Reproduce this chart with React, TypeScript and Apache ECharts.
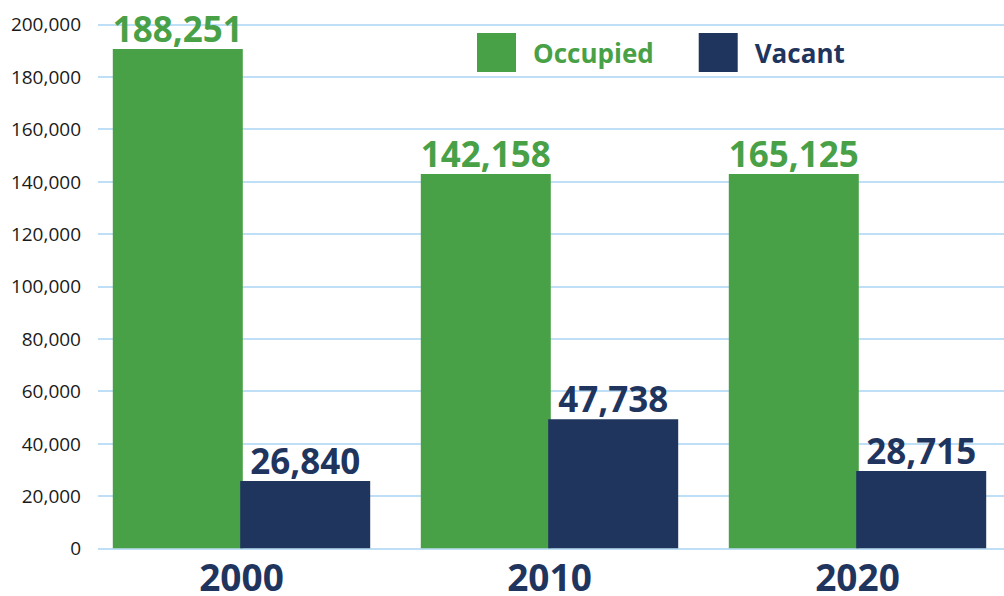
import React, { useEffect, useRef } from "react";
import * as echarts from "echarts";

const categories = ["2000", "2010", "2020"];
const occupiedBars = [190600, 142900, 142900];
const vacantBars = [25700, 49300, 29500];
const occupiedLabels = ["188,251", "142,158", "165,125"];
const vacantLabels = ["26,840", "47,738", "28,715"];
const yMin = 0;
const yMax = 200000;
const yStep = 20000;

const GREEN = "#49A147";
const NAVY = "#1F355E";
const GRIDLINE = "#A9D4F2";
const FONT = "'Open Sans', 'Noto Sans', sans-serif";

export default function App() {
  const ref = useRef<HTMLDivElement>(null);
  useEffect(() => {
    if (!ref.current) return;
    const chart = echarts.init(ref.current, undefined, { renderer: "svg" });
    chart.setOption({
      animation: false,
      backgroundColor: "#fff",
      textStyle: { fontFamily: FONT },
      legend: {
        left: 472,
        top: 28,
        itemWidth: 39,
        itemHeight: 39,
        itemGap: 45,
        icon: "rect",
        data: [
          { name: "Occupied", textStyle: { color: GREEN } },
          { name: "Vacant", textStyle: { color: NAVY } },
        ],
        textStyle: {
          fontFamily: FONT,
          fontWeight: "bold",
          fontSize: 26,
          padding: [0, 0, 0, 12],
        },
      },
      grid: [
        { left: 98, right: 8, top: 24.3, bottom: 47.7 },
        { left: 87.5, right: 0.5, top: 24.3, bottom: 47.7 },
      ],
      xAxis: [
        { gridIndex: 0, type: "category", data: categories, show: false },
        {
          gridIndex: 1,
          type: "category",
          data: categories,
          axisLine: { show: false },
          axisTick: { show: false },
          axisLabel: {
            color: NAVY,
            fontFamily: FONT,
            fontWeight: "bold",
            fontSize: 37,
            margin: 10,
          },
        },
      ],
      yAxis: [
        {
          gridIndex: 0,
          type: "value",
          min: yMin,
          max: yMax,
          interval: yStep,
          axisLine: { show: false },
          axisTick: { show: false },
          splitLine: { lineStyle: { color: GRIDLINE, width: 1.5 } },
          axisLabel: {
            color: "#1a1a1a",
            fontFamily: FONT,
            fontSize: 19,
            margin: 17,
            formatter: (v: number) => v.toLocaleString("en-US"),
          },
        },
        {
          gridIndex: 1,
          type: "value",
          min: yMin,
          max: yMax,
          interval: yStep,
          show: false,
          splitLine: { show: false },
        },
      ],
      series: [
        {
          name: "Occupied",
          type: "bar",
          xAxisIndex: 1,
          yAxisIndex: 1,
          data: occupiedBars,
          barWidth: 130,
          barGap: "-2%",
          itemStyle: { color: GREEN },
          label: {
            show: true,
            position: "top",
            distance: 3,
            color: GREEN,
            fontFamily: FONT,
            fontWeight: "bold",
            fontSize: 35,
            formatter: (p: any) => occupiedLabels[p.dataIndex],
          },
        },
        {
          name: "Vacant",
          type: "bar",
          xAxisIndex: 1,
          yAxisIndex: 1,
          data: vacantBars,
          barWidth: 130,
          itemStyle: { color: NAVY },
          label: {
            show: true,
            position: "top",
            distance: 3,
            color: NAVY,
            fontFamily: FONT,
            fontWeight: "bold",
            fontSize: 35,
            formatter: (p: any) => vacantLabels[p.dataIndex],
          },
        },
      ],
    });
    return () => chart.dispose();
  }, []);
  return (
    <div
      style={{
        position: "absolute",
        left: 0,
        top: 0,
        width: 1004,
        height: 596,
        overflow: "hidden",
      }}
    >
      <div ref={ref} style={{ width: 1012, height: 596 }} />
    </div>
  );
}
